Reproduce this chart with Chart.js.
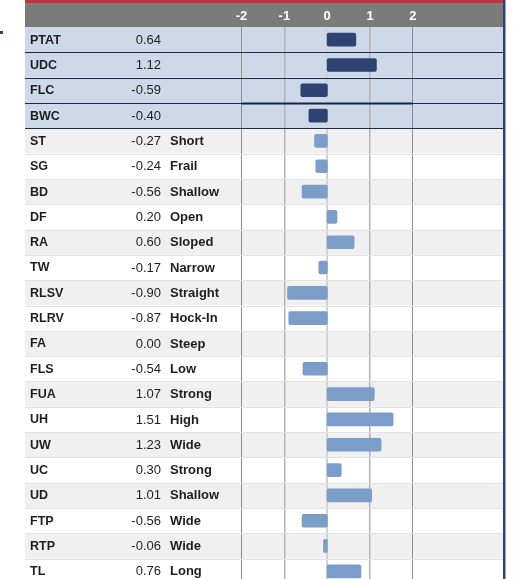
<!DOCTYPE html>
<html>
<head>
<meta charset="utf-8">
<script src="https://cdn.jsdelivr.net/npm/chart.js@4.4.1/dist/chart.umd.min.js"></script>
<style>
  html, body { margin: 0; padding: 0; background: #fff; overflow: hidden; }
  #wrap { position: relative; width: 513px; height: 584px; }
</style>
</head>
<body>
<div id="wrap"><canvas id="myChart" width="513" height="584"></canvas></div>
<script>
// trait codes, scores and descriptors
var codes = ["PTAT", "UDC", "FLC", "BWC", "ST", "SG", "BD", "DF", "RA", "TW", "RLSV",
             "RLRV", "FA", "FLS", "FUA", "UH", "UW", "UC", "UD", "FTP", "RTP", "TL"];
var scores = [0.64, 1.12, -0.59, -0.40, -0.27, -0.24, -0.56, 0.20, 0.60, -0.17, -0.90,
              -0.87, 0.00, -0.54, 1.07, 1.51, 1.23, 0.30, 1.01, -0.56, -0.06, 0.76];
var descriptors = ["", "", "", "", "Short", "Frail", "Shallow", "Open", "Sloped", "Narrow", "Straight",
                   "Hock-In", "Steep", "Low", "Strong", "High", "Wide", "Strong", "Shallow", "Wide", "Wide", "Long"];
var tickValues = [-2, -1, 0, 1, 2];
var nHighlight = 4; // first rows are the composite traits

var FONT = "'Liberation Sans', Arial, sans-serif";
var NAVY = "#2e4372";
var LIGHT = "#7b9dc7";
var TABLE_LEFT = 25, TABLE_RIGHT = 503;

var barColors = codes.map(function (c, i) { return i < nHighlight ? NAVY : LIGHT; });

function rowHeight(chart) {
    var a = chart.chartArea;
    return (a.bottom - a.top) / codes.length;
}

// draws the table around the bars: header band, row stripes, text
const tablePlugin = {
    id: "table",
    beforeDraw(chart) {
        const ctx = chart.ctx, y = chart.scales.y, area = chart.chartArea;
        const rh = rowHeight(chart);
        ctx.save();
        ctx.fillStyle = "#fff";
        ctx.fillRect(0, 0, chart.width, chart.height);
        // header
        ctx.fillStyle = "#c4333b";
        ctx.fillRect(TABLE_LEFT, 0, TABLE_RIGHT - TABLE_LEFT, 3);
        ctx.fillStyle = "#7b7b7b";
        ctx.fillRect(TABLE_LEFT, 3, TABLE_RIGHT - TABLE_LEFT, area.top - 3);
        // row stripes
        codes.forEach(function (c, i) {
            const top = y.getPixelForValue(i) - rh / 2;
            if (i < nHighlight) ctx.fillStyle = "#cdd9e9";
            else ctx.fillStyle = (i - nHighlight) % 2 === 0 ? "#f0f0f0" : "#ffffff";
            ctx.fillRect(TABLE_LEFT, top, TABLE_RIGHT - TABLE_LEFT, rh);
        });
        // little marker at far left
        ctx.fillStyle = NAVY;
        ctx.fillRect(0, 31, 3, 3);
        ctx.restore();
    },
    beforeDatasetsDraw(chart) {
        const ctx = chart.ctx, y = chart.scales.y, x = chart.scales.x;
        const rh = rowHeight(chart);
        ctx.save();
        // row separators
        codes.forEach(function (c, i) {
            const bottom = Math.round(y.getPixelForValue(i) + rh / 2) + 0.5;
            ctx.beginPath();
            ctx.moveTo(TABLE_LEFT, bottom);
            ctx.lineTo(TABLE_RIGHT, bottom);
            ctx.strokeStyle = i < nHighlight ? "#1c2a4a" : "#e2e2e2";
            ctx.lineWidth = i < nHighlight ? 1.2 : 1;
            ctx.stroke();
        });
        // heavier segment under FLC across the scale
        const yy = Math.round(y.getPixelForValue(2) + rh / 2) + 0.5;
        ctx.beginPath();
        ctx.moveTo(x.getPixelForValue(-2), yy);
        ctx.lineTo(x.getPixelForValue(2), yy);
        ctx.strokeStyle = "#14244a";
        ctx.lineWidth = 2.2;
        ctx.stroke();

        // text columns
        ctx.textBaseline = "middle";
        ctx.fillStyle = "#1e1e1e";
        codes.forEach(function (c, i) {
            const cy = y.getPixelForValue(i) + 0.5;
            ctx.font = "bold 12.5px " + FONT;
            ctx.textAlign = "left";
            ctx.fillText(c, 30, cy);
            ctx.font = "13px " + FONT;
            ctx.textAlign = "right";
            ctx.fillText(scores[i].toFixed(2), 161, cy);
            if (descriptors[i]) {
                ctx.font = "bold 13px " + FONT;
                ctx.textAlign = "left";
                ctx.fillText(descriptors[i], 170, cy);
            }
        });
        ctx.restore();
    },
    afterDraw(chart) {
        const ctx = chart.ctx;
        ctx.save();
        ctx.fillStyle = NAVY;
        ctx.fillRect(TABLE_RIGHT, 0, 2.5, chart.height);
        ctx.restore();
    }
};

new Chart("myChart", {
    type: "bar",
    data: {
        labels: codes,
        datasets: [{
            data: scores,
            backgroundColor: function (c) {
                return scores[c.dataIndex] === 0 ? "rgba(0,0,0,0)" : barColors[c.dataIndex];
            },
            borderRadius: 2,
            borderSkipped: false,
            inflateAmount: function (c) { return scores[c.dataIndex] === 0 ? 0 : 1.5; },
            barPercentage: 0.42,
            categoryPercentage: 1
        }]
    },
    options: {
        indexAxis: "y",
        responsive: false,
        animation: false,
        layout: { padding: { left: 241.5, right: 10, top: 0, bottom: 0 } },
        plugins: {
            legend: { display: false },
            tooltip: { enabled: false }
        },
        scales: {
            x: {
                position: "top",
                min: -2,
                max: 4.1,
                afterBuildTicks: function (s) {
                    s.ticks = tickValues.map(function (v) { return { value: v }; });
                },
                afterFit: function (s) { s.height = 27; },
                border: { display: false },
                grid: {
                    drawTicks: false,
                    color: function (c) {
                        var v = c.tick.value;
                        if (v === 0) return "#d2d2d2";
                        if (v === -2 || v === 2) return "#8e8e8e";
                        return "#b4b4b4";
                    },
                    lineWidth: function (c) {
                        var v = c.tick.value;
                        if (v === 0) return 2;
                        if (v === -2 || v === 2) return 1;
                        return 1.5;
                    }
                },
                ticks: {
                    color: "#ffffff",
                    font: { family: FONT, weight: "bold", size: 13 },
                    padding: 3,
                    maxRotation: 0,
                    callback: function (v) { return v; }
                }
            },
            y: {
                display: false
            }
        }
    },
    plugins: [tablePlugin]
});
</script>
</body>
</html>
